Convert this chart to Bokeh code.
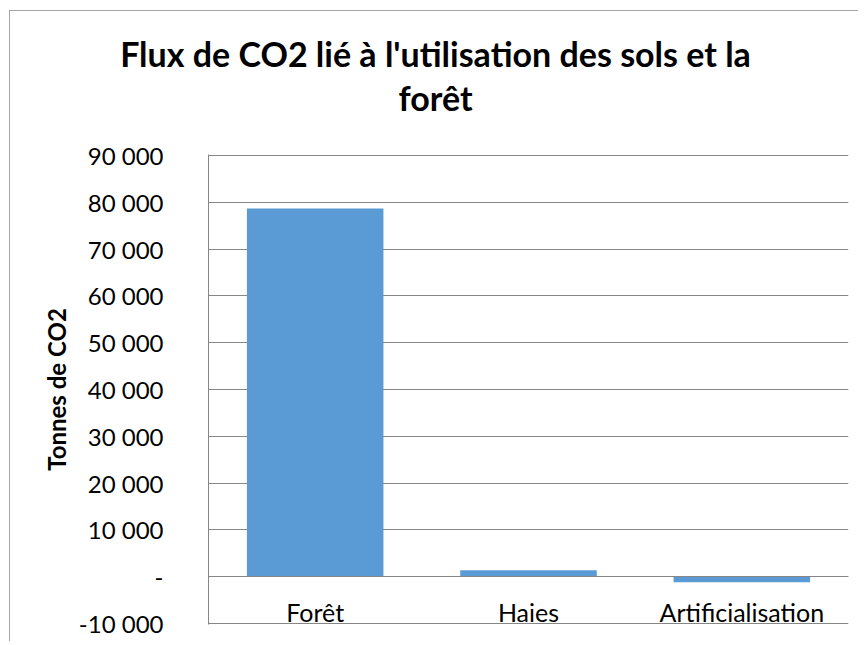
from bokeh.plotting import figure
from bokeh.layouts import column
from bokeh.models import FactorRange, Range1d, FixedTicker, Label, ColumnDataSource
from bokeh.embed import file_html
from bokeh.resources import INLINE

categories = ["Forêt", "Haies", "Artificialisation"]
values = [78700, 1400, -1200]
tick_values = [-10000, 0, 10000, 20000, 30000, 40000, 50000, 60000, 70000, 80000, 90000]
tick_labels = ["-10 000", "-", "10 000", "20 000", "30 000", "40 000", "50 000",
               "60 000", "70 000", "80 000", "90 000"]
title_lines = ["Flux de CO2 lié à l'utilisation des sols et la", "forêt"]
y_label = "Tonnes de CO2"

FONT = "Lato"
GRAY = "#868686"
W = 848
TITLE_H = 120

# ---- title strip (a bare figure whose frame is the whole canvas) ----
t = figure(width=W, height=TITLE_H, x_range=Range1d(0, W), y_range=Range1d(0, TITLE_H),
           x_axis_type=None, y_axis_type=None, output_backend="svg",
           toolbar_location=None, min_border=0)
t.frame_align = False
t.outline_line_color = None
t.grid.visible = False
title_style = dict(text_align="center", text_baseline="alphabetic", text_font=FONT,
                   text_font_size="34px", text_font_style="bold", text_color="black")
for txt, yy in zip(title_lines, [TITLE_H - 42, TITLE_H - 86]):
    t.add_layout(Label(x=425, y=yy, text=txt, **title_style))

# ---- chart ----
src = ColumnDataSource(data=dict(cat=categories, val=values))
pad = (tick_values[-1] - tick_values[0]) / 468.0

p = figure(x_range=FactorRange(*categories, range_padding=0),
           y_range=Range1d(tick_values[0] - pad, tick_values[-1] + pad),
           width=W, height=630 - TITLE_H, output_backend="svg", toolbar_location=None,
           min_border_left=198, min_border_right=10, min_border_top=143 - TITLE_H,
           min_border_bottom=17)
p.frame_align = False
p.outline_line_color = None

p.vbar(x="cat", top="val", width=0.64, source=src, fill_color="#5B9BD5", line_color=None)

p.xgrid.visible = False
p.ygrid.grid_line_color = GRAY
p.ygrid.grid_line_width = 1

ya = p.yaxis[0]
ya.ticker = FixedTicker(ticks=tick_values)
ya.major_label_overrides = dict(zip(tick_values, tick_labels))
ya.major_tick_out = 0
ya.major_tick_in = 0
ya.minor_tick_out = 0
ya.minor_tick_in = 0
ya.axis_line_color = GRAY
ya.major_label_standoff = 45
ya.major_label_text_font = FONT
ya.major_label_text_font_size = "24px"
ya.major_label_text_color = "black"
ya.axis_label = y_label
ya.axis_label_text_font = FONT
ya.axis_label_text_font_size = "24px"
ya.axis_label_text_font_style = "bold"
ya.axis_label_text_color = "black"
ya.axis_label_standoff = 5

xa = p.xaxis[0]
xa.fixed_location = 0
xa.axis_line_color = GRAY
xa.major_tick_out = 0
xa.major_tick_in = 0
xa.major_label_standoff = 20
xa.major_label_text_font = FONT
xa.major_label_text_font_size = "25px"
xa.major_label_text_color = "black"

layout = column(t, p, spacing=0)
layout.styles = {"margin-left": "9px", "margin-top": "10px",
                 "border-left": "1px solid #a6a6a6", "border-top": "1px solid #a6a6a6"}

open("out.html", "w").write(file_html(layout, INLINE))
